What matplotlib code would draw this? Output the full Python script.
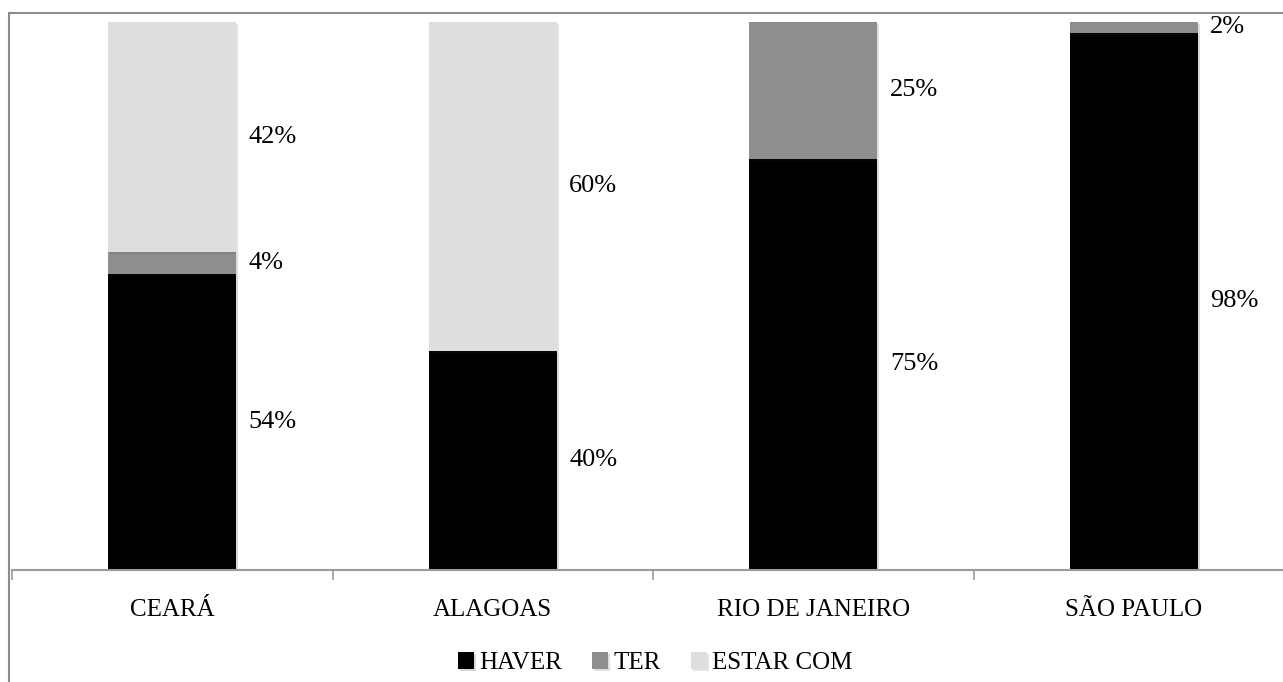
import matplotlib.pyplot as plt
import matplotlib.patheffects as pe
from matplotlib.patches import Rectangle
import numpy as np

plt.rcParams['font.family'] = ['Liberation Serif', 'DejaVu Serif']

estados = ['CEARÁ', 'ALAGOAS', 'RIO DE JANEIRO', 'SÃO PAULO']
haver = [54, 40, 75, 98]
ter = [4, 0, 25, 2]
estar_com = [42, 60, 0, 0]

series = [('HAVER', haver, '#000000'),
          ('TER', ter, '#8e8e8e'),
          ('ESTAR COM', estar_com, '#dedede')]

fig = plt.figure(figsize=(12.83, 6.82), dpi=100)
W, H = 1283, 682

# moldura externa do gráfico
fig.patches.append(Rectangle((9 / W, -0.1), 1.2, 1 - 13 / H + 0.1,
                             transform=fig.transFigure, fill=False,
                             edgecolor='#8c8c8c', linewidth=1.5))

ax = fig.add_axes([12 / W, 1 - 570 / H, (1294 - 12) / W, (570 - 22) / H])
ax.set_xlim(-0.5, 3.5)
ax.set_ylim(0, 100)

x = np.arange(len(estados))
width = 0.4
bottom = np.zeros(len(estados))
shadow = [pe.SimplePatchShadow(offset=(1.5, -1.5), alpha=0.15), pe.Normal()]
for nome, vals, cor in series:
    vals = np.array(vals, dtype=float)
    bars = ax.bar(x, vals, width, bottom=bottom, color=cor, label=nome,
                  linewidth=0)
    for b in bars:
        b.set_path_effects(shadow)
    for i, v in enumerate(vals):
        if v > 0:
            ax.annotate(f'{v:.0f}%', (x[i] + width / 2, bottom[i] + v / 2),
                        xytext=(9, 0), textcoords='offset points',
                        va='center', ha='left', fontsize=19)
    bottom += vals

for s in ['top', 'right', 'left']:
    ax.spines[s].set_visible(False)
ax.spines['bottom'].set_color('#999999')
ax.spines['bottom'].set_linewidth(1.5)
ax.set_yticks([])
ax.set_xticks(x)
ax.set_xticklabels(estados, fontsize=18)
ax.tick_params(axis='x', which='major', length=0, pad=21)
ax.set_xticks(np.arange(-0.5, 4, 1), minor=True)
ax.tick_params(axis='x', which='minor', length=7, width=1.2, color='#999999')

fig.legend(loc='center', bbox_to_anchor=(655 / W, 1 - 663 / H), ncol=3,
           frameon=False, fontsize=18, handlelength=0.65, handleheight=0.65,
           handletextpad=0.2, columnspacing=1.2)

fig.savefig('out.png', dpi=100)
